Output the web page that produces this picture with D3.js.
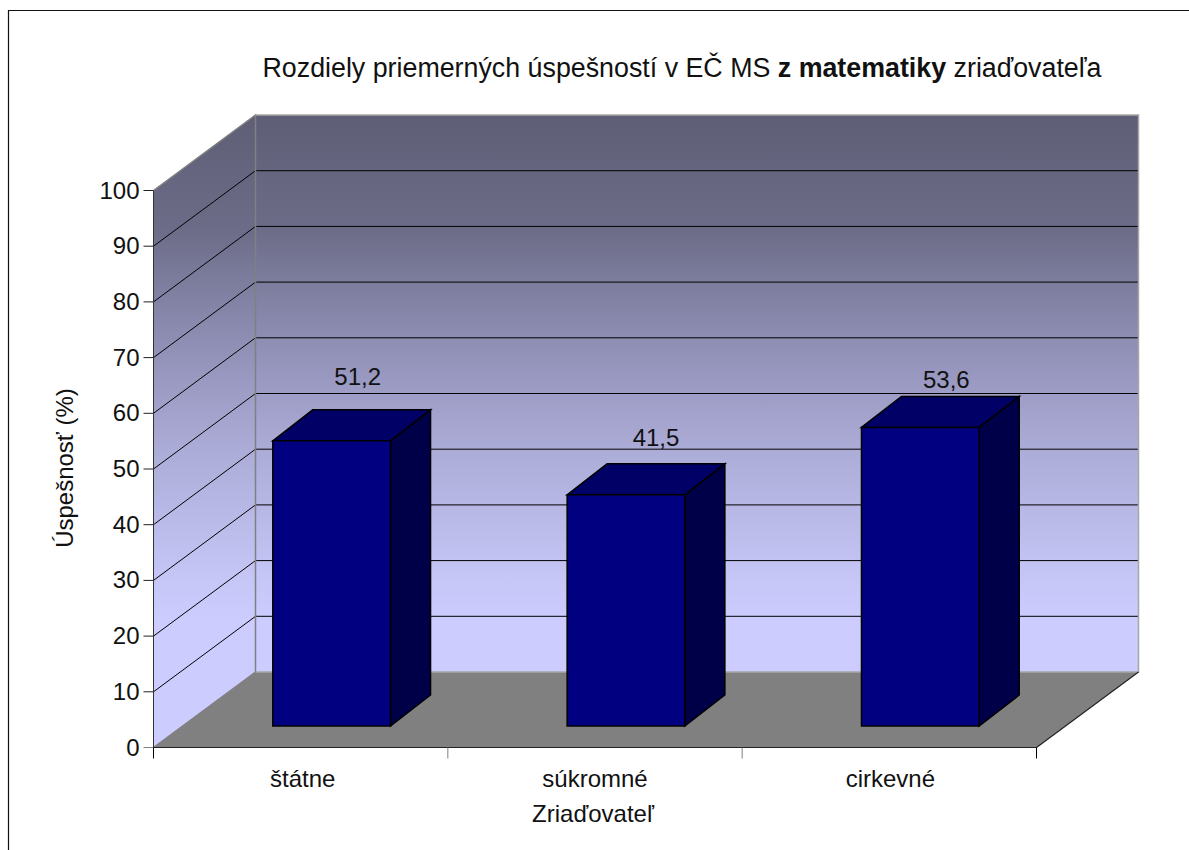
<!DOCTYPE html>
<html><head><meta charset="utf-8">
<script src="https://cdn.jsdelivr.net/npm/d3@7"></script>
<style>html,body{margin:0;padding:0;background:#fff}svg{display:block}text{font-family:"Liberation Sans",Arial,sans-serif;fill:#111}</style>
</head><body><svg id="c" width="1189" height="850"></svg>
<script>
const categories = ["štátne","súkromné","cirkevné"];
const values = [51.2,41.5,53.6];
const valueLabels = ["51,2","41,5","53,6"];
const yTicks = [0,10,20,30,40,50,60,70,80,90,100];
const wallStops = [[0,"#5e5e76"],[0.18,"#6c6c88"],[0.355,"#8e8eb4"],[0.53,"#acacd8"],[0.70,"#c2c2f2"],[0.8,"#ccccff"],[1,"#ccccff"]];

const svg = d3.select("#c");
const W=1189,H=850;
const x = d3.scaleBand().domain(categories).range([153.5,1036.5]);
const y = d3.scaleLinear().domain([0,100]).range([747.5,190.5]);
const DEPTH={dx:102,dy:-75.5}, BAR_OFF={dx:31,dy:-21.5}, BAR_D={dx:40,dy:-31};
const barW=x.bandwidth()*0.4;
const labelLift=[56,49,39], labelShift=[26,30,26];

// frame (open at the right and bottom)
svg.append("path").attr("d",`M8.5,${H}V10.5H${W}`).attr("fill","none").attr("stroke","#111").attr("stroke-width",1.2);

const g0=svg.append("defs").append("linearGradient").attr("id","wall")
  .attr("gradientUnits","userSpaceOnUse").attr("x1",0).attr("x2",0).attr("y1",115).attr("y2",y(0));
wallStops.forEach(s=>g0.append("stop").attr("offset",s[0]).attr("stop-color",s[1]));

const poly=(pts)=>"M"+pts.map(p=>p.join(",")).join("L")+"Z";
const X0=x.range()[0],X1=x.range()[1];
svg.append("path").attr("d",poly([[X0+DEPTH.dx,y(100)+DEPTH.dy],[X1+DEPTH.dx,y(100)+DEPTH.dy],[X1+DEPTH.dx,y(0)+DEPTH.dy],[X0+DEPTH.dx,y(0)+DEPTH.dy]])).attr("fill","url(#wall)");
svg.append("path").attr("d",poly([[X0,y(100)],[X0+DEPTH.dx,y(100)+DEPTH.dy],[X0+DEPTH.dx,y(0)+DEPTH.dy],[X0,y(0)]])).attr("fill","url(#wall)");
svg.append("path").attr("d",poly([[X0,y(0)],[X0+DEPTH.dx,y(0)+DEPTH.dy],[X1+DEPTH.dx,y(0)+DEPTH.dy],[X1,y(0)]])).attr("fill","#808080");

yTicks.filter(t=>t>0&&t<100).forEach(t=>{
  svg.append("path").attr("fill","none").attr("stroke","#000").attr("stroke-width",1)
    .attr("d",`M${X0},${y(t)}L${X0+DEPTH.dx},${y(t)+DEPTH.dy}H${X1+DEPTH.dx}`);
});
svg.append("path").attr("fill","none").attr("stroke","#808080").attr("stroke-width",1.5)
  .attr("d",`M${X0},${y(100)}L${X0+DEPTH.dx},${y(100)+DEPTH.dy}V${y(0)+DEPTH.dy}L${X0},${y(0)}`);
svg.append("path").attr("fill","none").attr("stroke","#a6a6a6").attr("stroke-width",1.5)
  .attr("d",`M${X0+DEPTH.dx},${y(100)+DEPTH.dy}H${X1+DEPTH.dx}V${y(0)+DEPTH.dy}H${X0+DEPTH.dx}`);

categories.forEach((c,i)=>{
  const l=x(c)+x.bandwidth()/2-barW/2+BAR_OFF.dx, r=l+barW;
  const b=y(0)+BAR_OFF.dy, t=y(values[i])+BAR_OFF.dy;
  const G=svg.append("g").attr("stroke","#000").attr("stroke-width",1.5).attr("stroke-linejoin","miter");
  G.append("path").attr("fill","#000066").attr("d",poly([[l,t],[l+BAR_D.dx,t+BAR_D.dy],[r+BAR_D.dx,t+BAR_D.dy],[r,t]]));
  G.append("path").attr("fill","#000048").attr("d",poly([[r,t],[r+BAR_D.dx,t+BAR_D.dy],[r+BAR_D.dx,b+BAR_D.dy],[r,b]]));
  G.append("path").attr("fill","#000080").attr("d",poly([[l,t],[r,t],[r,b],[l,b]]));
  svg.append("text").attr("x",(l+r)/2+labelShift[i]).attr("y",t-labelLift[i]).attr("text-anchor","middle").attr("font-size",24).text(valueLabels[i]);
});

svg.append("path").attr("fill","none").attr("stroke","#333").attr("d",`M${X0},${y(100)}V${y(0)}`);
const yAxis=svg.append("g");
yTicks.forEach(t=>{
  yAxis.append("line").attr("x1",X0-10).attr("x2",X0).attr("y1",y(t)).attr("y2",y(t)).attr("stroke",t==0?"#808080":"#222");
  yAxis.append("text").attr("x",X0-14).attr("y",y(t)+8).attr("text-anchor","end").attr("font-size",24).text(t);
});
svg.append("line").attr("x1",X0).attr("x2",X1).attr("y1",y(0)).attr("y2",y(0)).attr("stroke","#222").attr("stroke-width",1.2);
svg.append("line").attr("x1",X1).attr("x2",X1+DEPTH.dx).attr("y1",y(0)).attr("y2",y(0)+DEPTH.dy).attr("stroke","#222").attr("stroke-width",1.2);
[X0,X0+x.step(),X0+2*x.step(),X1].forEach((p,i)=>{
  svg.append("line").attr("x1",p).attr("x2",p).attr("y1",y(0)).attr("y2",y(0)+11).attr("stroke",(i==0||i==3)?"#000":"#808080");
});
categories.forEach((c,i)=>{
  svg.append("text").attr("x",x(c)+x.bandwidth()/2+[2,0,1][i]).attr("y",787).attr("text-anchor","middle").attr("font-size",24).text(c);
});
svg.append("text").attr("x",593).attr("y",822).attr("text-anchor","middle").attr("font-size",24).text("Zriaďovateľ");
svg.append("text").attr("transform","translate(73,468) rotate(-90)").attr("text-anchor","middle").attr("font-size",24).text("Úspešnosť (%)");
const T=svg.append("text").attr("x",682).attr("y",77).attr("text-anchor","middle").attr("font-size",26.8);
T.append("tspan").text("Rozdiely priemerných úspešností v EČ MS ");
T.append("tspan").attr("font-weight","bold").text("z matematiky");
T.append("tspan").text(" zriaďovateľa");
</script></body></html>
